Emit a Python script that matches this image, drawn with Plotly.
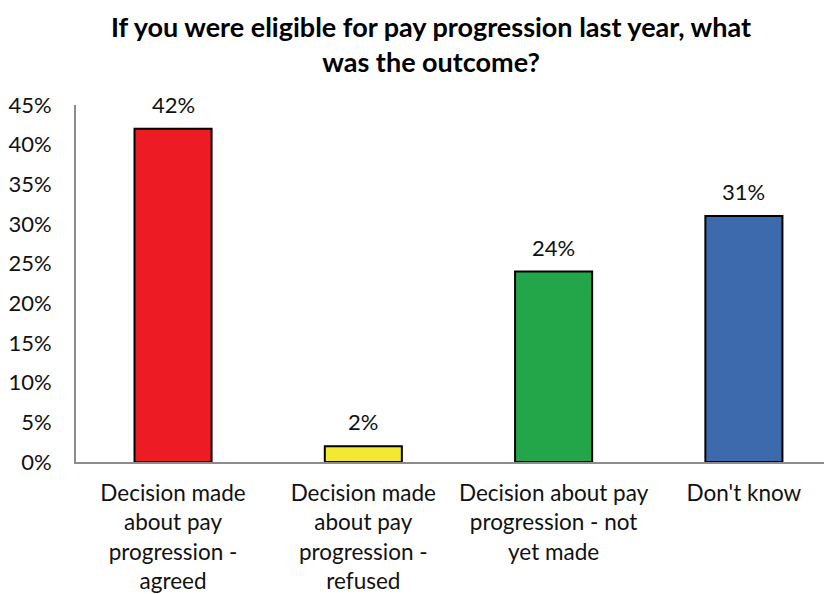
import plotly.graph_objects as go

categories = [
    "Decision made<br>about pay<br>progression -<br>agreed",
    "Decision made<br>about pay<br>progression -<br>refused",
    "Decision about pay<br>progression - not<br>yet made",
    "Don't know",
]
values = [42, 2, 24, 31]
bar_colors = ["#ED1C24", "#F2E930", "#23A64A", "#3D6AAC"]
y_ticks = [0, 5, 10, 15, 20, 25, 30, 35, 40, 45]
y_tick_labels = [f"{v}%" for v in y_ticks]
value_labels = [f"{v}%" for v in values]
title_text = "<b>If you were eligible for pay progression last year, what<br>was the outcome?</b>"

FONT = "Lato, 'Open Sans', sans-serif"
TXT = "#111111"

x_pos = list(range(len(categories)))

fig = go.Figure()
fig.add_trace(go.Bar(
    x=x_pos,
    y=values,
    width=0.405,
    marker=dict(color=bar_colors, line=dict(color="#000000", width=2)),
    hoverinfo="skip",
))

for xi, v, lab in zip(x_pos, values, value_labels):
    fig.add_annotation(
        x=xi, y=v, xref="x", yref="y", text=lab, showarrow=False,
        yanchor="bottom", yshift=9,
        font=dict(family=FONT, size=22, color=TXT),
    )

fig.add_annotation(
    x=0.470, y=1, xref="paper", yref="paper", text=title_text, showarrow=False,
    xanchor="center", yanchor="middle", yshift=61, borderpad=0,
    font=dict(family=FONT, size=27, color="#000000"),
)

fig.update_layout(
    width=824, height=586,
    margin=dict(l=65, r=0, t=97, b=130),
    paper_bgcolor="white", plot_bgcolor="white",
    showlegend=False,
    font=dict(family=FONT, size=22, color=TXT),
)
fig.update_xaxes(
    range=[-0.51, 3.463],
    tickmode="array",
    tickvals=x_pos,
    ticktext=categories,
    showline=True, linecolor="#8c8c8c", linewidth=2,
    ticks="", showgrid=False, zeroline=False,
    tickfont=dict(family=FONT, size=22.5, color=TXT),
    tickangle=0,
    ticklabelstandoff=10,
)
fig.update_yaxes(
    range=[0, 45],
    tickmode="array",
    tickvals=y_ticks,
    ticktext=y_tick_labels,
    showline=True, linecolor="#8c8c8c", linewidth=2,
    ticks="", showgrid=False, zeroline=False,
    tickfont=dict(family=FONT, size=22, color=TXT),
    ticklabelstandoff=18,
)

fig.write_html("out.html")
